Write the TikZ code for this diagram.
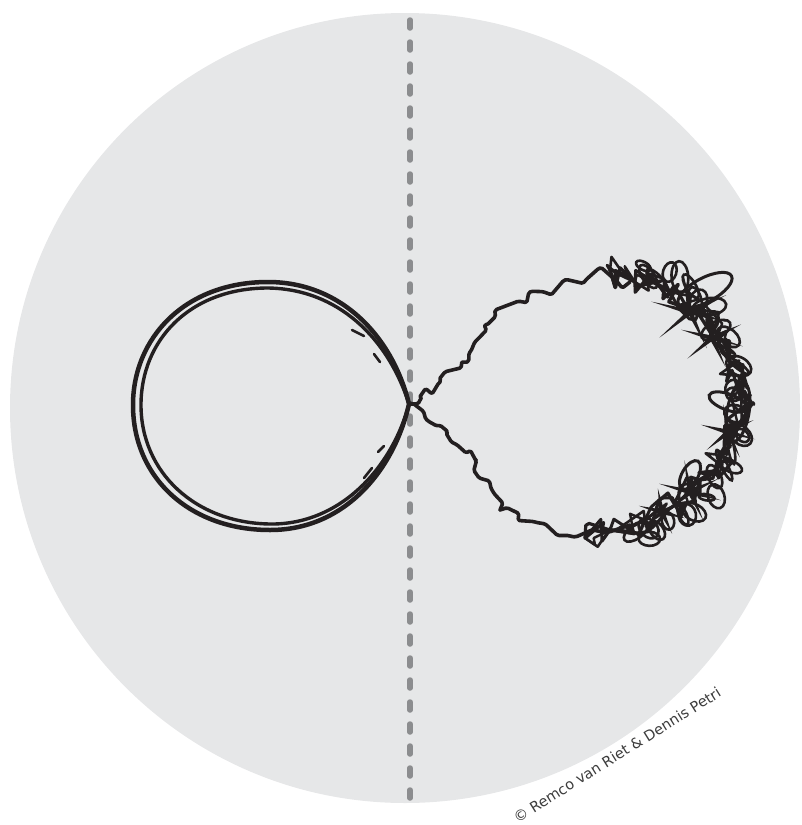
\documentclass[tikz,border=0pt]{standalone}
\usepackage{fontspec}
\setsansfont{DejaVu Sans}
\usetikzlibrary{decorations.pathmorphing}
\definecolor{discgray}{HTML}{E6E7E8}
\definecolor{dashgray}{HTML}{8C8D8F}
\definecolor{ink}{HTML}{231F20}
\definecolor{creditgray}{HTML}{3C3C3C}
\tikzset{
	disc/.style={fill=discgray, draw=none},
	axisline/.style={draw=dashgray, line width=5.5pt, line cap=round, dash pattern=on 8pt off 14pt},
	loopline/.style={draw=ink, line width=4.5pt, line join=round, line cap=round},
	wiggle/.style={loopline, line width=3.6pt, decorate, decoration={random steps, segment length=#1, amplitude=#1}, rounded corners=1.5pt},
	scribble/.style={draw=ink, line width=#1, line join=round, line cap=round, decorate, decoration={random steps, segment length=9pt, amplitude=14pt}},
	spike/.style={fill=ink},
	curl/.style={draw=ink, line width=#1},
	curl/.default=3pt,
	credit/.style={font=\sffamily\fontsize{14.5}{17}\selectfont, text=creditgray, inner sep=0pt}
}
\begin{document}
\begin{tikzpicture}[x=1pt, y=-1pt]
	\useasboundingbox (0,0) rectangle (801,825);
	\pgfmathsetseed{4127}
	\coordinate (c) at (405,408);
	\coordinate (tip) at (409,404);
	\coordinate (top) at (410,20);
	\coordinate (bottom) at (410,800);
	\fill[disc] (c) circle[radius=395pt];
	\draw[axisline] (top) -- (bottom);
	\draw[loopline] (tip) .. controls (392,335) and (340,282) .. (268,282) .. controls (185,282) and (133,338) .. (133,405) .. controls (133,478) and (190,530) .. (270,530) .. controls (345,530) and (394,470) .. (tip);
	\draw[loopline, line width=3.4pt] (tip) .. controls (388,338) and (338,289) .. (268,288) .. controls (190,288) and (141,340) .. (141,405) .. controls (141,472) and (195,523) .. (270,524) .. controls (340,525) and (392,468) .. (tip);
	\draw[loopline, line width=2.6pt] (364,336) -- (352,330) (380,362) -- (374,354) (372,468) -- (364,478) (384,446) -- (378,452);
	\draw[wiggle=6pt] (tip) -- (440,382) -- (470,352) -- (495,312);
	\draw[wiggle=10pt] (495,312) -- (530,292) -- (565,280) -- (600,268) -- (630,282);
	\draw[wiggle=6pt] (tip) -- (435,425) -- (465,452) -- (492,490) -- (500,510);
	\draw[wiggle=10pt] (500,510) -- (535,522) -- (570,536) -- (605,532) -- (630,525);
	\foreach \w in {3.2pt,2.6pt,3pt,2.4pt,3.4pt}{
		\draw[scribble=\w] (610,270) -- (635,282) -- (670,292) -- (700,310) -- (718,335) -- (730,362) -- (742,395) -- (738,425) -- (720,455) -- (700,480) -- (675,505) -- (645,520) -- (610,530) -- (585,538);
	}
	\foreach \t in {-84,-79,...,86}{
		\pgfmathsetmacro{\px}{626+114*cos(\t)+7*rand}
		\pgfmathsetmacro{\py}{403+133*sin(\t)+7*rand}
		\pgfmathsetmacro{\rx}{7+10*rnd}
		\pgfmathsetmacro{\ry}{3+6*rnd}
		\pgfmathsetmacro{\rot}{360*rnd}
		\draw[curl=2.6pt, rotate around={\rot:(\px,\py)}] (\px,\py) ellipse[x radius=\rx pt, y radius=\ry pt];
	}
	\draw[curl, rotate around={28:(705,290)}] (705,290) ellipse[x radius=30pt, y radius=12pt];
	\draw[curl, rotate around={-10:(738,412)}] (738,412) ellipse[x radius=11pt, y radius=30pt];
	\draw[curl, rotate around={-20:(728,402)}] (728,402) ellipse[x radius=20pt, y radius=8pt];
	\draw[curl, rotate around={60:(690,475)}] (690,475) ellipse[x radius=16pt, y radius=8pt];
	\foreach \x/\y/\r in {690/312/40, 712/338/32, 728/432/28, 690/492/32, 662/512/24}{
		\foreach \a in {25,100,165,220,295,345}{
			\fill[spike, shift={(\x,\y)}, rotate=\a] (0,2.5pt) -- (\r pt,0pt) -- (0,-2.5pt) -- cycle;
		}
	}
	\node[credit, rotate=32] (credit) at (617,755) {© Remco van Riet \& Dennis Petri};
\end{tikzpicture}
\end{document}
